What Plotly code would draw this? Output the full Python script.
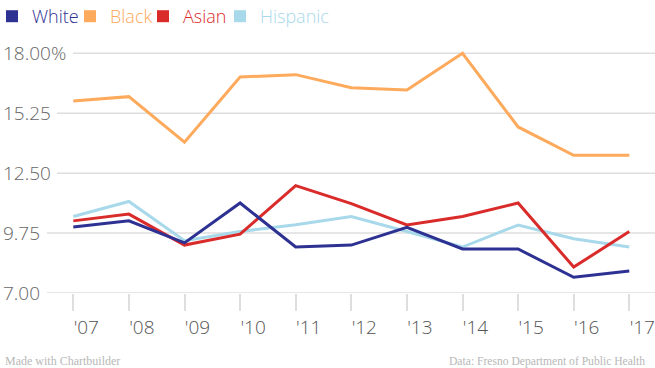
import plotly.graph_objects as go

years = [2007, 2008, 2009, 2010, 2011, 2012, 2013, 2014, 2015, 2016, 2017]
year_labels = ["'07", "'08", "'09", "'10", "'11", "'12", "'13", "'14", "'15", "'16", "'17"]

white = [10.03, 10.31, 9.3, 11.13, 9.11, 9.2, 10.01, 9.02, 9.02, 7.72, 8.01]
black = [15.81, 16.01, 13.92, 16.91, 17.02, 16.42, 16.32, 18.0, 14.62, 13.32, 13.32]
asian = [10.31, 10.62, 9.2, 9.7, 11.93, 11.1, 10.12, 10.51, 11.13, 8.19, 9.82]
hispanic = [10.51, 11.2, 9.4, 9.82, 10.13, 10.51, 9.82, 9.11, 10.12, 9.49, 9.11]

y_ticks = [7.0, 9.75, 12.5, 15.25, 18.0]
y_tick_text = ["7.00", "9.75", "12.50", "15.25", "18.00%"]
grid_start_px = [47, 47, 57, 57, 73]

names = ["White", "Black", "Asian", "Hispanic"]
colors = {"White": "#2d3192", "Black": "#fdaa5c", "Asian": "#da2b2b", "Hispanic": "#a8d9ea"}
series = {"White": white, "Black": black, "Asian": asian, "Hispanic": hispanic}
legend_text_px = [27, 105, 178, 255]

W, H = 655, 368
PLOT_TOP, PLOT_BOTTOM = 40, 293
PLOT_H = PLOT_BOTTOM - PLOT_TOP
FONT = "Open Sans"
fig = go.Figure()

draw_order = ["Hispanic", "Black", "Asian", "White"]
for name in draw_order:
    fig.add_trace(go.Scatter(x=years, y=series[name], mode="lines",
                             line=dict(color=colors[name], width=3),
                             showlegend=False, hoverinfo="skip"))

legend_layout = {}
for i, name in enumerate(names):
    key = "legend" if i == 0 else f"legend{i + 1}"
    fig.add_trace(go.Scatter(x=[None], y=[None], mode="markers",
                             marker=dict(symbol="square", size=12, color=colors[name]),
                             name=f"<span style='color:{colors[name]}'>{name}</span>",
                             showlegend=True, legend=key))
    legend_layout[key] = dict(
        orientation="h", x=(legend_text_px[i] - 35) / W, xref="paper",
        y=(PLOT_BOTTOM + 2) / PLOT_H, yref="paper", yanchor="top", xanchor="left",
        font=dict(size=18, family=FONT, weight=300), itemwidth=30,
        bgcolor="rgba(0,0,0,0)", borderwidth=0)

for v, px in zip(y_ticks, grid_start_px):
    fig.add_shape(type="line", xref="paper", yref="y", x0=px / W, x1=1, y0=v, y1=v,
                  line=dict(color="#dedede", width=1.5), layer="below")

px_per_year = 55.6
x0_px = 73.3
xr = [2007 - x0_px / px_per_year, 2007 + (W - x0_px) / px_per_year]

foot_y = (PLOT_BOTTOM - 361) / PLOT_H
fig.update_layout(
    width=W, height=H,
    margin=dict(l=0, r=0, t=PLOT_TOP, b=H - PLOT_BOTTOM, autoexpand=False),
    paper_bgcolor="white", plot_bgcolor="white",
    font=dict(family=FONT, color="#666666"),
    showlegend=True,
    xaxis=dict(range=xr, tickvals=years, ticktext=year_labels, showgrid=False,
               zeroline=False, showline=False, ticks="outside", ticklen=17,
               tickcolor="#dedede", tickwidth=1.5,
               tickfont=dict(size=19, color="#555555", family=FONT, weight=300),
               ticklabelshift=13, ticklabeloverflow="allow", automargin=False,
               fixedrange=True),
    yaxis=dict(range=[7.0, 18.61], tickvals=y_ticks, ticktext=y_tick_text,
               showgrid=False, zeroline=False, showline=False,
               ticklabelposition="inside", ticklabeloverflow="allow",
               tickfont=dict(size=19, color="#666666", family=FONT, weight=300),
               ticklabelstandoff=0, automargin=False, fixedrange=True),
    annotations=[
        dict(text="Made with Chartbuilder", xref="paper", yref="paper", x=0, y=foot_y,
             xanchor="left", yanchor="middle", xshift=3, showarrow=False,
             font=dict(family="Liberation Serif", size=12, color="#b8b8b8")),
        dict(text="Data: Fresno Department of Public Health", xref="paper", yref="paper", x=1,
             y=foot_y, xanchor="right", yanchor="middle", xshift=-8, showarrow=False,
             font=dict(family="Liberation Serif", size=11.6, color="#b8b8b8")),
    ],
    **legend_layout,
)

fig.write_html("out.html", config={"displayModeBar": False},
               post_script="document.body.style.margin='0';")
